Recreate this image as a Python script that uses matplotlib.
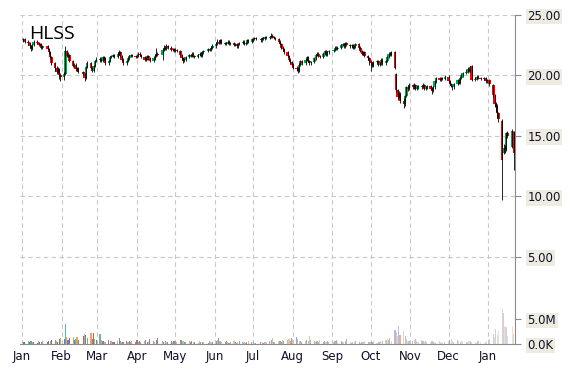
import matplotlib
matplotlib.use('Agg')
import matplotlib.pyplot as plt
import matplotlib.dates as mdates
import matplotlib.colors as mcolors
import numpy as np
import pandas as pd

ticker = 'HLSS'

# exchange holidays inside the range
holidays = ['2014-01-20', '2014-02-17', '2014-04-18', '2014-05-26', '2014-07-04',
            '2014-09-01', '2014-11-27', '2014-12-25', '2015-01-01', '2015-01-19']

# daily prices, one line per month (Jan 2014 .. Jan 21 2015)
opens = [
    22.9, 23.0, 22.8, 22.7, 22.4, 22.2, 22.5, 22.8, 22.7, 22.5, 22.6, 22.3, 22.4, 22.2, 21.9, 21.5, 21.0, 20.6, 20.3, 20.5, 20.0,
    19.9, 20.1, 22.0, 21.6, 21.7, 21.2, 20.8, 20.9, 20.5, 20.6, 20.3, 20.1, 19.8, 20.7, 21.0, 20.6, 20.4, 20.8, 21.2,
    21.3, 21.3, 21.2, 21.5, 21.4, 21.0, 21.2, 21.5, 21.6, 21.7, 21.5, 21.8, 21.9, 21.6, 21.3, 21.0, 21.2, 21.4, 21.6, 21.7, 21.6,
    21.5, 21.6, 21.8, 21.7, 21.5, 21.3, 21.4, 21.6, 21.4, 21.2, 21.4, 21.6, 21.8, 21.7, 22.1, 22.3, 22.2, 22.4, 22.3, 22.1, 22.2,
    22.0, 22.1, 22.0, 21.7, 21.4, 21.2, 21.3, 21.5, 21.7, 21.6, 21.8, 21.6, 21.5, 21.7, 21.8, 21.6, 21.9, 22.0, 22.2, 22.1, 22.3,
    22.4, 22.6, 22.8, 22.7, 22.9, 22.7, 22.6, 22.7, 22.8, 22.6, 22.7, 22.5, 22.6, 22.4, 22.6, 22.7, 22.8, 22.6, 22.7, 22.9, 22.8,
    23.0, 23.0, 23.1, 23.0, 22.9, 23.1, 23.0, 23.2, 23.1, 23.2, 23.3, 23.2, 23.1, 23.0, 22.8, 22.6, 22.3, 22.2, 21.9, 21.6, 21.3, 21.1,
    20.9, 20.6, 20.6, 20.4, 20.9, 21.2, 21.0, 21.3, 21.5, 21.2, 21.0, 21.1, 21.4, 21.7, 21.8, 21.6, 21.5, 21.8, 22.0, 21.7, 21.9,
    22.0, 22.1, 22.3, 22.2, 22.3, 22.5, 22.6, 22.4, 22.7, 22.5, 22.4, 22.5, 22.3, 22.4, 22.6, 22.3, 22.0, 21.8, 21.9, 21.6, 21.4,
    21.2, 21.0, 20.8, 21.1, 21.2, 20.9, 21.0, 21.3, 21.0, 21.2, 21.5, 21.8, 21.7, 21.9, 20.1, 18.8, 18.2, 18.5, 17.9, 17.6, 18.3, 19.0, 18.9,
    19.2, 19.0, 19.2, 18.9, 19.1, 19.0, 19.1, 19.2, 18.9, 19.0, 19.1, 18.9, 18.7, 19.0, 19.5, 19.8, 19.6, 19.8, 19.7,
    19.9, 19.5, 19.3, 19.1, 19.0, 19.3, 19.6, 19.4, 19.8, 20.0, 20.2, 20.3, 20.5, 20.4, 20.8, 19.6, 19.7, 19.9, 19.8, 19.7, 19.8, 19.5,
    19.6, 19.2, 18.4, 17.6, 17.4, 16.9, 16.2, 13.6, 14.0, 13.8, 15.2, 14.1, 15.3,
]
highs = [
    23.1, 23.1, 22.9, 22.8, 22.5, 22.6, 22.9, 22.9, 22.8, 22.7, 22.7, 22.5, 22.5, 22.3, 22.0, 21.6, 21.1, 20.8, 20.7, 20.6, 20.2,
    20.3, 22.4, 22.1, 21.9, 21.8, 21.3, 21.0, 21.0, 20.7, 20.7, 20.4, 20.2, 20.8, 21.2, 21.1, 20.7, 20.9, 21.3, 21.5,
    21.5, 21.4, 21.6, 21.6, 21.5, 21.3, 21.6, 21.7, 21.8, 21.8, 21.9, 22.1, 22.0, 21.7, 21.4, 21.3, 21.5, 21.7, 21.8, 21.8, 21.7,
    21.7, 21.9, 21.9, 21.8, 21.6, 21.5, 21.7, 21.7, 21.5, 21.5, 21.8, 22.3, 21.9, 22.3, 22.5, 22.4, 22.6, 22.5, 22.4, 22.3, 22.3,
    22.3, 22.2, 22.1, 21.8, 21.5, 21.4, 21.6, 21.8, 21.8, 21.9, 21.9, 21.7, 21.8, 21.9, 21.9, 22.0, 22.1, 22.3, 22.3, 22.4, 22.6,
    22.8, 23.0, 22.9, 23.0, 23.0, 22.8, 22.8, 22.9, 22.9, 22.8, 22.8, 22.7, 22.7, 22.7, 22.8, 22.9, 22.9, 22.8, 23.0, 23.0, 23.1,
    23.1, 23.2, 23.2, 23.1, 23.2, 23.2, 23.3, 23.3, 23.3, 23.5, 23.4, 23.3, 23.2, 23.1, 22.9, 22.7, 22.4, 22.3, 22.0, 21.7, 21.4, 21.2,
    21.0, 20.8, 20.7, 21.0, 21.3, 21.3, 21.4, 21.6, 21.6, 21.3, 21.2, 21.5, 21.8, 21.9, 21.9, 21.7, 21.9, 22.1, 22.1, 22.0, 22.1,
    22.2, 22.4, 22.4, 22.4, 22.6, 22.7, 22.7, 22.8, 22.8, 22.6, 22.6, 22.6, 22.5, 22.7, 22.7, 22.4, 22.1, 22.0, 22.0, 21.7, 21.5,
    21.3, 21.1, 21.2, 21.3, 21.3, 21.1, 21.4, 21.4, 21.3, 21.6, 21.9, 21.9, 22.0, 22.0, 20.2, 18.9, 18.7, 18.6, 18.1, 18.4, 19.1, 19.2, 19.4,
    19.3, 19.4, 19.3, 19.2, 19.2, 19.2, 19.4, 19.3, 19.1, 19.2, 19.2, 19.0, 19.1, 19.6, 19.9, 19.9, 19.9, 19.9, 20.0,
    20.0, 19.6, 19.4, 19.2, 19.4, 19.7, 19.7, 19.9, 20.1, 20.3, 20.5, 20.7, 20.6, 20.8, 20.9, 19.9, 20.0, 20.0, 19.9, 19.9, 19.9, 19.7,
    19.7, 19.3, 18.5, 17.8, 17.6, 17.0, 16.4, 14.3, 14.2, 15.3, 15.4, 15.6, 15.4,
]
lows = [
    22.8, 22.7, 22.5, 22.3, 22.0, 22.1, 22.4, 22.6, 22.4, 22.4, 22.2, 22.2, 22.1, 21.8, 21.4, 20.9, 20.4, 20.1, 20.2, 19.7, 19.5,
    19.6, 20.0, 21.5, 21.5, 21.1, 20.7, 20.7, 20.4, 20.4, 20.2, 20.0, 19.5, 19.7, 20.6, 20.5, 20.3, 20.3, 20.7, 21.1,
    21.1, 21.1, 21.1, 21.3, 20.9, 20.9, 21.1, 21.4, 21.5, 21.4, 21.4, 21.7, 21.5, 21.2, 20.9, 20.9, 21.1, 21.3, 21.5, 21.5, 21.4,
    21.4, 21.5, 21.6, 21.4, 21.2, 21.2, 21.3, 21.3, 21.1, 21.1, 21.3, 21.5, 21.6, 21.3, 22.0, 22.1, 22.1, 22.2, 22.0, 22.0, 21.9,
    21.9, 21.9, 21.6, 21.3, 21.0, 21.1, 21.2, 21.4, 21.5, 21.5, 21.5, 21.4, 21.4, 21.6, 21.5, 21.5, 21.8, 21.9, 22.0, 22.0, 22.2,
    22.3, 22.5, 22.6, 22.6, 22.6, 22.5, 22.5, 22.6, 22.5, 22.5, 22.4, 22.4, 22.3, 22.3, 22.5, 22.6, 22.5, 22.5, 22.6, 22.7, 22.7,
    22.8, 22.9, 22.9, 22.8, 22.8, 22.9, 22.9, 23.0, 23.0, 23.1, 23.1, 23.0, 22.9, 22.7, 22.5, 22.2, 22.0, 21.8, 21.5, 21.2, 21.0, 20.8,
    20.5, 20.4, 20.2, 20.3, 20.8, 20.9, 20.9, 21.2, 21.1, 20.9, 20.9, 21.0, 21.3, 21.6, 21.5, 21.4, 21.4, 21.7, 21.6, 21.6, 21.8,
    21.9, 22.0, 22.1, 22.1, 22.2, 22.4, 22.3, 22.3, 22.4, 22.3, 22.3, 22.2, 22.2, 22.3, 22.2, 21.9, 21.7, 21.7, 21.5, 21.3, 20.9,
    20.4, 20.7, 20.7, 21.0, 20.8, 20.8, 20.9, 20.9, 20.9, 21.1, 21.4, 21.6, 21.6, 20.5, 18.6, 18.0, 18.1, 17.7, 17.3, 17.5, 18.2, 18.7, 18.8,
    18.9, 18.9, 18.8, 18.8, 18.9, 18.9, 19.0, 18.8, 18.8, 18.9, 18.8, 18.5, 18.6, 18.9, 19.4, 19.5, 19.5, 19.6, 19.6,
    19.4, 19.2, 19.0, 18.8, 18.9, 19.2, 19.3, 19.3, 19.7, 19.9, 20.1, 20.2, 20.3, 20.3, 19.5, 19.5, 19.6, 19.7, 19.6, 19.6, 19.4, 19.4,
    19.1, 18.2, 17.4, 17.0, 16.5, 16.1, 9.7, 13.5, 13.6, 13.7, 14.8, 14.0, 12.2,
]
closes = [
    23.0, 22.8, 22.7, 22.4, 22.2, 22.5, 22.8, 22.7, 22.5, 22.6, 22.3, 22.4, 22.2, 21.9, 21.5, 21.0, 20.6, 20.3, 20.5, 20.0, 19.9,
    20.1, 22.0, 21.6, 21.7, 21.2, 20.8, 20.9, 20.5, 20.6, 20.3, 20.1, 19.8, 20.7, 21.0, 20.6, 20.4, 20.8, 21.2, 21.3,
    21.3, 21.2, 21.5, 21.4, 21.0, 21.2, 21.5, 21.6, 21.7, 21.5, 21.8, 21.9, 21.6, 21.3, 21.0, 21.2, 21.4, 21.6, 21.7, 21.6, 21.5,
    21.6, 21.8, 21.7, 21.5, 21.3, 21.4, 21.6, 21.4, 21.2, 21.4, 21.6, 21.8, 21.7, 22.1, 22.3, 22.2, 22.4, 22.3, 22.1, 22.2, 22.0,
    22.1, 22.0, 21.7, 21.4, 21.2, 21.3, 21.5, 21.7, 21.6, 21.8, 21.6, 21.5, 21.7, 21.8, 21.6, 21.9, 22.0, 22.2, 22.1, 22.3, 22.4,
    22.6, 22.8, 22.7, 22.9, 22.7, 22.6, 22.7, 22.8, 22.6, 22.7, 22.5, 22.6, 22.4, 22.6, 22.7, 22.8, 22.6, 22.7, 22.9, 22.8, 23.0,
    23.0, 23.1, 23.0, 22.9, 23.1, 23.0, 23.2, 23.1, 23.2, 23.3, 23.2, 23.1, 23.0, 22.8, 22.6, 22.3, 22.2, 21.9, 21.6, 21.3, 21.1, 20.9,
    20.6, 20.5, 20.4, 20.9, 21.2, 21.0, 21.3, 21.5, 21.2, 21.0, 21.1, 21.4, 21.7, 21.8, 21.6, 21.5, 21.8, 22.0, 21.7, 21.9, 22.0,
    22.1, 22.3, 22.2, 22.3, 22.5, 22.6, 22.4, 22.7, 22.5, 22.4, 22.5, 22.3, 22.4, 22.6, 22.3, 22.0, 21.8, 21.9, 21.6, 21.4, 21.2,
    21.0, 20.8, 21.1, 21.2, 20.9, 21.0, 21.3, 21.0, 21.2, 21.5, 21.8, 21.7, 21.9, 20.6, 18.8, 18.2, 18.5, 17.9, 17.6, 18.3, 19.0, 18.9, 19.2,
    19.0, 19.2, 18.9, 19.1, 19.0, 19.1, 19.2, 18.9, 19.0, 19.1, 18.9, 18.7, 19.0, 19.5, 19.8, 19.6, 19.8, 19.7, 19.9,
    19.5, 19.3, 19.1, 19.0, 19.3, 19.6, 19.4, 19.8, 20.0, 20.2, 20.3, 20.5, 20.4, 20.7, 19.6, 19.7, 19.9, 19.8, 19.7, 19.8, 19.5, 19.6,
    19.3, 18.4, 17.6, 17.4, 16.9, 16.4, 13.0, 14.0, 13.8, 15.2, 15.0, 15.4, 13.6,
]
# daily volume, millions of shares
volumes = [
    0.5, 0.4, 0.6, 0.5, 0.7, 0.4, 0.5, 0.3, 0.6, 0.5, 0.4, 0.6, 0.5, 0.7, 0.6, 0.9, 0.8, 0.6, 0.5, 1.0, 1.2,
    1.1, 4.0, 1.5, 0.9, 1.3, 1.4, 0.8, 1.0, 1.5, 0.9, 1.6, 2.1, 1.8, 1.2, 2.2, 1.0, 2.2, 1.1, 0.8,
    2.1, 0.9, 0.6, 0.7, 0.5, 0.8, 0.6, 0.7, 0.4, 0.5, 0.6, 1.2, 0.7, 0.5, 0.4, 0.6, 0.5, 0.7, 0.5, 0.6, 0.4,
    0.8, 0.5, 0.7, 0.4, 0.6, 0.9, 0.5, 0.4, 1.0, 0.6, 0.5, 0.8, 1.2, 0.7, 0.5, 0.6, 0.4, 0.5, 0.7, 0.4, 0.6,
    0.6, 0.5, 0.8, 0.9, 0.6, 0.5, 0.4, 0.7, 0.5, 0.6, 0.4, 0.5, 0.3, 0.6, 0.5, 0.4, 0.5, 0.3, 0.6, 0.5, 0.4,
    0.7, 0.9, 1.3, 0.6, 0.5, 0.4, 0.6, 0.5, 0.3, 0.4, 0.6, 0.5, 0.3, 0.5, 0.6, 0.4, 0.5, 0.3, 0.4, 0.6, 0.5,
    0.4, 0.3, 0.3, 0.5, 0.4, 0.3, 0.5, 0.4, 0.6, 0.8, 1.3, 0.5, 0.4, 0.7, 0.6, 0.5, 0.8, 0.6, 0.9, 1.0, 0.7, 1.2,
    1.1, 1.4, 1.0, 0.6, 0.7, 0.5, 0.6, 0.9, 0.7, 1.7, 0.8, 0.6, 0.5, 0.7, 0.4, 0.8, 0.5, 0.6, 0.4, 0.7, 0.5,
    0.4, 0.6, 0.9, 0.5, 0.7, 0.4, 0.5, 0.6, 1.0, 0.4, 0.3, 0.5, 0.4, 0.6, 0.5, 0.3, 0.4, 0.5, 0.6, 0.5, 0.4,
    0.5, 0.4, 0.6, 0.3, 0.5, 0.4, 0.7, 0.6, 0.9, 1.1, 0.8, 1.3, 0.7, 2.9, 2.4, 1.6, 3.6, 1.9, 2.6, 1.7, 1.0, 0.7, 0.6,
    0.6, 0.8, 1.0, 0.7, 0.5, 0.9, 0.6, 0.5, 0.7, 0.4, 0.5, 0.6, 0.4, 0.5, 0.3, 0.6, 0.4, 0.3, 0.5,
    0.7, 0.9, 1.1, 0.6, 0.5, 0.8, 0.6, 0.5, 0.7, 0.6, 0.4, 0.5, 0.6, 0.7, 0.5, 0.4, 0.3, 0.6, 0.5, 0.3, 0.4, 0.6,
    1.0, 2.1, 1.5, 3.0, 1.8, 2.6, 7.1, 6.2, 3.6, 3.5, 1.6, 3.7, 2.1,
]

price_ticks = [5, 10, 15, 20, 25]
vol_ticks = [0, 5e6]
vol_tick_labels = ['0.0K', '5.0M']

UP = '#00a84f'
DOWN = '#ff0000'
GRID = '#c8c8c8'
AXIS = '#8c8c8c'
TEXT = '#101028'
LABEL_BG = '#eeece1'
VOL_COLORS = ['#4f81bd', '#c0504d', '#9bbb59', '#8064a2', '#4bacc6', '#f79646']


def trading_days():
    days = pd.bdate_range('2014-01-02', '2015-01-21')
    return days[~days.isin(pd.to_datetime(holidays))]


def label_boxes(labels):
    for t in labels:
        t.set_bbox(dict(boxstyle='square,pad=0.12', fc=LABEL_BG, ec='none'))


def main():
    dates = trading_days()
    o, h, l, c = (np.array(v) for v in (opens, highs, lows, closes))
    vol = np.array(volumes) * 1e6
    assert len(dates) == len(o) == len(h) == len(l) == len(c) == len(vol), \
        (len(dates), len(o), len(h), len(l), len(c), len(vol))
    x = mdates.date2num(dates)

    W, H = 570, 370
    fig = plt.figure(figsize=(W / 100, H / 100), dpi=100)
    ax = fig.add_axes([20 / W, 26 / H, 495 / W, 329 / H])
    # twinx moves the host ticks to the left, so make it first
    vax = ax.twinx()

    # candles: colored body, black wick on top
    up = c >= o
    body = np.maximum(np.abs(c - o), 0.04)
    ax.bar(x, body, bottom=np.minimum(o, c), width=1.9,
           color=np.where(up, UP, DOWN), linewidth=0, zorder=3)
    ax.vlines(x, l, h, color='black', linewidth=0.6, zorder=4)

    start = mdates.date2num(pd.Timestamp('2014-01-01'))
    ax.set_xlim(start - 1.6, start - 1.6 + 387.6)
    ax.set_ylim(-2.24, 25)

    ax.xaxis.set_major_locator(mdates.MonthLocator())
    ax.xaxis.set_major_formatter(mdates.DateFormatter('%b'))
    ax.yaxis.tick_right()
    ax.set_yticks(price_ticks)
    ax.set_yticklabels(['%.2f' % p for p in price_ticks])
    ax.grid(True, color=GRID, linestyle=(0, (4, 3)), linewidth=0.8)
    ax.set_axisbelow(True)
    ax.tick_params(axis='x', length=0, pad=4, labelsize=8.5, labelcolor=TEXT)
    ax.tick_params(axis='y', length=4, color=AXIS, pad=5, labelsize=8.5, labelcolor=TEXT)
    label_boxes(ax.get_yticklabels())
    for side in ('top', 'left'):
        ax.spines[side].set_visible(False)
    for side in ('right', 'bottom'):
        ax.spines[side].set_color(AXIS)

    # volume on its own scale at the bottom
    n = len(vol)
    vcol = [mcolors.to_rgba(VOL_COLORS[i % len(VOL_COLORS)], 1.0 - 0.7 * i / n)
            for i in range(n)]
    vax.bar(x, vol, width=0.9, color=vcol, linewidth=0)
    vax.set_ylim(0, 65.8e6)
    vax.set_yticks(vol_ticks)
    vax.set_yticklabels(vol_tick_labels)
    vax.tick_params(axis='y', length=4, color=AXIS, pad=5, labelsize=8.5, labelcolor=TEXT)
    label_boxes(vax.get_yticklabels())
    for sp in vax.spines.values():
        sp.set_visible(False)

    fig.text(29 / W, 1 - 39 / H, ticker, fontsize=14, family='Open Sans',
             va='baseline', color='black')

    fig.savefig('out.png', dpi=100)


if __name__ == '__main__':
    main()
